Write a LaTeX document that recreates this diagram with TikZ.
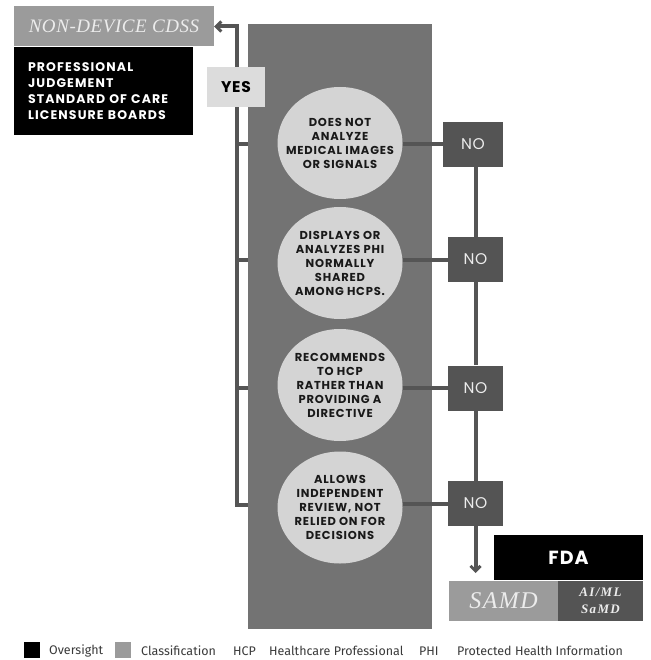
\documentclass[tikz,border=0pt]{standalone}
\usepackage{fontspec}
\setmainfont{Liberation Serif}
\newfontfamily\poppq{Poppins}[LetterSpace=7]
\newfontfamily\poppb{Poppins}[LetterSpace=9]
\newfontfamily\poppl{Poppins}[LetterSpace=5]
\newfontfamily\serw{Liberation Serif}[LetterSpace=3]
\newfontfamily\serx{Liberation Serif}[LetterSpace=6]
\newfontfamily\sery{Liberation Serif}[LetterSpace=10]
\newfontfamily\legf{Fira Sans}
\usetikzlibrary{arrows.meta,shapes.geometric}
\definecolor{linec}{HTML}{555555}
\definecolor{classc}{HTML}{9B9B9B}
\definecolor{panelc}{HTML}{737373}
\definecolor{circc}{HTML}{D4D4D4}
\definecolor{yesc}{HTML}{DCDCDC}
\definecolor{noc}{HTML}{545454}
\definecolor{lightt}{HTML}{ECECEC}
\definecolor{legt}{HTML}{3A3A3A}
\begin{document}
\begin{tikzpicture}[x=1pt,y=-1pt,
  flowline/.style={draw=linec,line width=4pt},
  chev/.style={-{Straight Barb[length=5pt,width=10pt,line width=3pt]}},
  classbox/.style={fill=classc,inner sep=0pt,text=lightt},
  oversightbox/.style={fill=black,inner sep=0pt,text=white},
  question/.style={ellipse,fill=circc,inner sep=0pt,minimum width=125pt,minimum height=112pt},
  qtext/.style={inner sep=0pt,align=center,font=\poppq\bfseries\fontsize{11.5}{14}\selectfont,text=black!90},
  nobox/.style={fill=noc,inner sep=0pt,minimum height=45pt,minimum width=55pt,
     text=lightt,font=\poppl\fontsize{15.5}{17}\selectfont},
  legsq/.style={inner sep=0pt,minimum width=16pt,minimum height=16pt},
  legtext/.style={inner sep=0pt,anchor=west,text=legt,font=\legf\fontsize{12.5}{14}\selectfont}]
\useasboundingbox[fill=white] (0,0) rectangle (650,660);

% panel
\node[fill=panelc,inner sep=0pt,minimum width=184pt,minimum height=605pt] (panel) at (340,326.5) {};

% classification / oversight boxes at top left
\node[classbox,minimum width=200pt,minimum height=40pt,font=\serw\itshape\fontsize{19}{21}\selectfont] (ndc) at (114,26.5) {NON-DEVICE CDSS};
\node[oversightbox,text width=151pt,inner xsep=14pt,minimum height=88pt,align=left,
      font=\poppb\bfseries\fontsize{12.5}{16}\selectfont] (pj) at (103.5,91)
  {PROFESSIONAL\\JUDGEMENT\\STANDARD OF CARE\\LICENSURE BOARDS};

% questions
\node[question,label={[qtext]center:DOES NOT\\ANALYZE\\MEDICAL IMAGES\\OR SIGNALS}] (q1) at (340,143) {};
\node[question,label={[qtext]center:DISPLAYS OR\\ANALYZES PHI\\NORMALLY\\SHARED\\AMONG HCPS.}] (q2) at (340,263) {};
\node[question,label={[qtext]center:RECOMMENDS\\TO HCP\\RATHER THAN\\PROVIDING A\\DIRECTIVE}] (q3) at (340,385) {};
\node[question,label={[qtext]center:ALLOWS\\INDEPENDENT\\REVIEW, NOT\\RELIED ON FOR\\DECISIONS}] (q4) at (340,507.5) {};

% NO boxes
\node[nobox,minimum width=60pt] (no1) at (473,144.5) {NO};
\node[nobox] (no2) at (475.5,259.5) {NO};
\node[nobox] (no3) at (475.5,388) {NO};
\node[nobox] (no4) at (475.5,503.5) {NO};

% result boxes
\node[oversightbox,minimum width=149pt,minimum height=45pt,font=\poppl\bfseries\fontsize{19}{21}\selectfont] (fda) at (568.5,557.5) {FDA};
\node[classbox,minimum width=109pt,minimum height=40pt,font=\serx\itshape\fontsize{24}{26}\selectfont] (samd) at (503.5,601) {SAMD};
\node[fill=noc,inner sep=0pt,minimum width=85pt,minimum height=40pt,text=lightt,align=center,
      font=\sery\bfseries\itshape\fontsize{13}{17}\selectfont] (aiml) at (600.5,601) {AI/ML\\SaMD};

% YES path
\coordinate (ytop) at (237,26.5);
\coordinate (ybot) at (237,505);
\draw[flowline,chev,line join=miter] (ybot) -- (ytop) -- (ndc.east);
\foreach \n in {no1,no2,no3} \draw[flowline] (\n -| ytop) -- (\n -| panel.west);
\draw[flowline,line join=miter] ([yshift=-2pt]ybot) -- (ybot) -- (ybot -| panel.west);
\node[fill=yesc,inner sep=0pt,minimum width=58pt,minimum height=40pt,font=\poppl\bfseries\fontsize{15.5}{17}\selectfont] (yes) at (236,87) {YES};

% NO path
\foreach \q/\n in {q1/no1,q2/no2,q3/no3,q4/no4} \draw[flowline] (\n.west -| \q.east) -- (\n.west);
\draw[flowline] (no1.south -| no2.north) -- (no2.north);
\draw[flowline] (no2.south) -- (no3.north);
\draw[flowline] (no3.south) -- (no4.north);
\coordinate (noend) at (475.5,573);
\draw[flowline,chev] (no4.south) -- (noend);

% legend
\node[legsq,fill=black] (l1) at (32,650) {};
\node[legtext] (l1t) at (49,651) {Oversight};
\node[legsq,fill=classc] (l2) at (123,650) {};
\node[legtext] (l2t) at (141,651) {Classification};
\node[legtext] (l3) at (233,651) {HCP};
\node[legtext] (l3t) at (269,651) {Healthcare Professional};
\node[legtext] (l4) at (419,651) {PHI};
\node[legtext] (l4t) at (457,651) {Protected Health Information};
\end{tikzpicture}
\end{document}
